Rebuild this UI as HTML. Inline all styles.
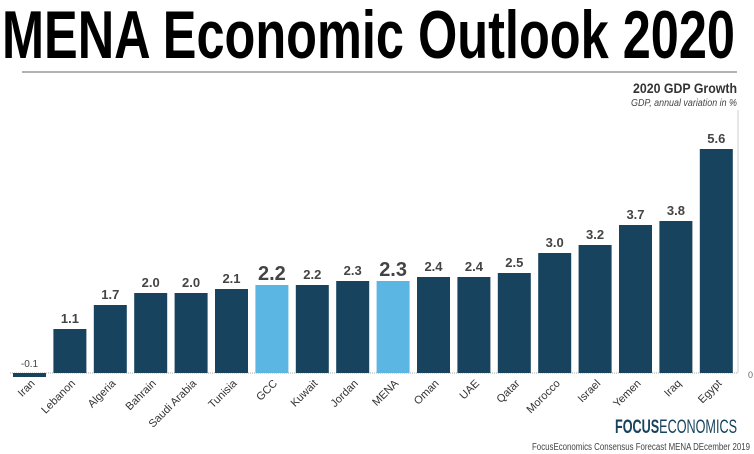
<!DOCTYPE html>
<html><head><meta charset="utf-8"><style>
body{margin:0;width:754px;height:454px;background:#fff;overflow:hidden;font-family:"Liberation Sans",sans-serif}
</style></head><body>
<svg id="c" width="754" height="454" style="position:absolute;left:0;top:0">
<text x="2" y="58" font-weight="bold" font-size="68" fill="#000" textLength="733" lengthAdjust="spacingAndGlyphs">MENA Economic Outlook 2020</text>
<line x1="22" y1="72" x2="737" y2="72" stroke="#999" stroke-width="1.5"/>
<text x="737" y="93" text-anchor="end" font-weight="bold" font-size="14" fill="#333" textLength="104" lengthAdjust="spacingAndGlyphs">2020 GDP Growth</text>
<text x="737" y="106" text-anchor="end" font-style="italic" font-size="10" fill="#444" textLength="106" lengthAdjust="spacingAndGlyphs">GDP, annual variation in %</text>
<line x1="738" y1="110" x2="738" y2="373" stroke="#ccc"/>
<text x="748" y="378" font-size="9" fill="#666">0</text>
<text x="737" y="433" text-anchor="end" font-size="19" fill="#17435e" textLength="122" lengthAdjust="spacingAndGlyphs"><tspan font-weight="bold">FOCUS</tspan>ECONOMICS</text>
<text x="750" y="450" text-anchor="end" font-size="10" fill="#444" textLength="218" lengthAdjust="spacingAndGlyphs">FocusEconomics Consensus Forecast MENA DEcember 2019</text>
<g id="bars"></g>
</svg>
<script>
const categories=["Iran","Lebanon","Algeria","Bahrain","Saudi Arabia","Tunisia","GCC","Kuwait","Jordan","MENA","Oman","UAE","Qatar","Morocco","Israel","Yemen","Iraq","Egypt"];
const values=[-0.1,1.1,1.7,2.0,2.0,2.1,2.2,2.2,2.3,2.3,2.4,2.4,2.5,3.0,3.2,3.7,3.8,5.6];
const highlights=["GCC","MENA"];
const NS="http://www.w3.org/2000/svg";
const g=document.getElementById('bars');
const base=373, perUnit=40, x0=13, pitch=40.4, bw=33;
const yS=v=>base-v*perUnit;
const xS=i=>x0+i*pitch;
const zl=document.createElementNS(NS,'line');
zl.setAttribute('x1',10);zl.setAttribute('x2',738);zl.setAttribute('y1',base);zl.setAttribute('y2',base);
zl.setAttribute('stroke','#aaa');zl.setAttribute('stroke-dasharray','1,1');


g.appendChild(zl);
categories.forEach((c,i)=>{
 const v=values[i],hl=highlights.includes(c);
 const x=xS(i),y=Math.min(yS(v),base),h=Math.max(Math.abs(yS(v)-base),2);
 const r=document.createElementNS(NS,'rect');
 r.setAttribute('x',x);r.setAttribute('y',y);r.setAttribute('width',bw);r.setAttribute('height',h);
 r.setAttribute('fill',hl?'#5cb6e4':'#17435e');
 
 
 g.appendChild(r);
 const t=document.createElementNS(NS,'text');
 t.setAttribute('x',x+bw/2);t.setAttribute('y',(v<0?base:yS(v))-(hl?5:6));
 t.setAttribute('text-anchor','middle');t.setAttribute('font-weight',v<0?'normal':'bold');
 t.setAttribute('font-size',hl?20:(v<0?10:13));t.setAttribute('fill','#444');
 t.textContent=v.toFixed(1);
 
 
 g.appendChild(t);
 const l=document.createElementNS(NS,'text');
 const lx=x+bw/2+6,ly=base+11;
 l.setAttribute('x',lx);l.setAttribute('y',ly);l.setAttribute('text-anchor','end');
 l.setAttribute('font-size',11);l.setAttribute('fill','#333');
 l.setAttribute('transform','rotate(-45 '+lx+' '+ly+')');
 l.textContent=c;
 
 
 g.appendChild(l);
});
</script>
</body></html>
